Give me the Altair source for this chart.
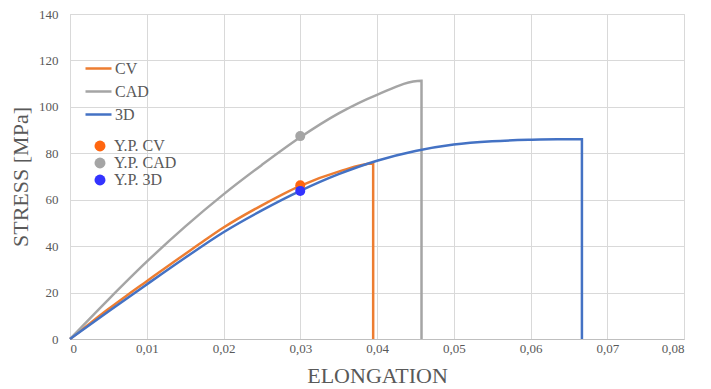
import altair as alt
import pandas as pd

cv_x = [0, 0.0025, 0.005, 0.0075, 0.01, 0.0125, 0.015, 0.0175, 0.02, 0.025, 0.03, 0.035, 0.0395, 0.0395]
cv_y = [0, 6.5, 12.9, 19, 24.9, 30.8, 36.6, 42.4, 48.0, 57.6, 66, 72.1, 75.6, 0]
cad_x = [0, 0.005, 0.01, 0.015, 0.02, 0.025, 0.03, 0.035, 0.04, 0.0458, 0.0458]
cad_y = [0, 17, 33.3, 48.4, 62.3, 75.0, 86.9, 97.2, 105.2, 111.3, 0]
d3_x = [0, 0.005, 0.01, 0.015, 0.02, 0.025, 0.03, 0.035, 0.04, 0.045, 0.05, 0.055, 0.06, 0.0635, 0.0667, 0.0667]
d3_y = [0, 11.8, 23.5, 35.0, 46.0, 55.4, 63.8, 71.0, 76.8, 81.0, 83.8, 85.2, 85.8, 86.0, 86.0, 0]

yp_names = ["Y.P. CV", "Y.P. CAD", "Y.P. 3D"]
yp_x = [0.03, 0.03, 0.03]
yp_y = [66.2, 87.4, 63.8]

series = ["CV", "CAD", "3D"]
line_colors = ["#ED7D31", "#A5A5A5", "#4472C4"]
yp_colors = ["#FF6610", "#A5A5A5", "#3333FF"]
x_ticks = [0, 0.01, 0.02, 0.03, 0.04, 0.05, 0.06, 0.07, 0.08]
y_ticks = [0, 20, 40, 60, 80, 100, 120, 140]

rows = []
for name, xs, ys in zip(series, [cv_x, cad_x, d3_x], [cv_y, cad_y, d3_y]):
    for i, (a, b) in enumerate(zip(xs, ys)):
        rows.append({"s": name, "x": a, "y": b, "i": i})
lines_df = pd.DataFrame(rows)
yp_df = pd.DataFrame({"s": yp_names, "x": yp_x, "y": yp_y})

FONT = "Liberation Serif"
GRAY = "#595959"

xscale = alt.Scale(domain=[0, 0.08], nice=False)
yscale = alt.Scale(domain=[0, 140], nice=False)
xaxis = alt.Axis(values=x_ticks, title="ELONGATION", labelExpr="replace(format(datum.value, '.2~f'), '.', ',')",
                 grid=True, gridColor="#D9D9D9", domainColor="#BFBFBF", ticks=False,
                 labelFont=FONT, labelFontSize=13, labelColor=GRAY, labelPadding=3,
                 titleFont=FONT, titleFontSize=22, titleColor=GRAY, titleFontWeight="normal", titlePadding=10)
yaxis = alt.Axis(values=y_ticks, title="STRESS [MPa]", grid=True, gridColor="#D9D9D9", domainColor="#D9D9D9",
                 ticks=False, labelFont=FONT, labelFontSize=13, labelColor=GRAY, labelPadding=12,
                 titleFont=FONT, titleFontSize=22, titleColor=GRAY, titleFontWeight="normal", titlePadding=6)

lines = alt.Chart(lines_df).mark_line(strokeWidth=2.5, interpolate="monotone").encode(
    x=alt.X("x:Q", scale=xscale, axis=xaxis),
    y=alt.Y("y:Q", scale=yscale, axis=yaxis),
    color=alt.Color("s:N", scale=alt.Scale(domain=series, range=line_colors),
                    legend=alt.Legend(title=None, orient="none", legendX=14, legendY=40,
                                      symbolType="stroke", symbolSize=676, symbolStrokeWidth=2.5,
                                      labelFont=FONT, labelFontSize=16, labelColor=GRAY,
                                      rowPadding=-3, labelOffset=2)),
    order="i:Q",
)

points = alt.Chart(yp_df).mark_circle(size=100, opacity=1).encode(
    x=alt.X("x:Q", scale=xscale),
    y=alt.Y("y:Q", scale=yscale),
    color=alt.Color("s:N", scale=alt.Scale(domain=yp_names, range=yp_colors),
                    legend=alt.Legend(title=None, orient="none", legendX=22, legendY=124,
                                      symbolType="circle", symbolSize=120, symbolOpacity=1,
                                      labelFont=FONT, labelFontSize=16, labelColor=GRAY,
                                      rowPadding=1, labelOffset=6)),
)

chart = alt.layer(lines, points).resolve_scale(color="independent").properties(
    width=614, height=325,
    autosize=alt.AutoSizeParams(type="none"),
    padding={"left": 62, "top": 6, "right": 15, "bottom": 50},
).configure_view(stroke=None).configure(background="white")

chart.save("out.html", embed_options={"renderer": "svg", "actions": False})
